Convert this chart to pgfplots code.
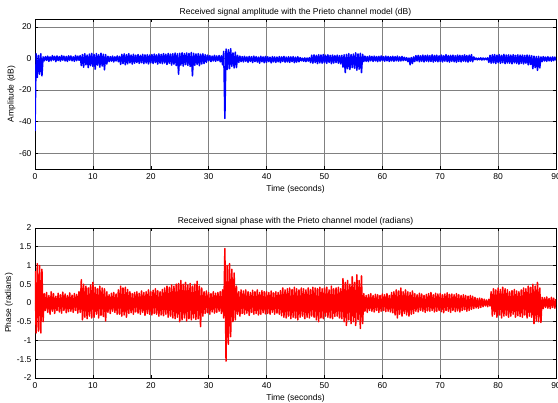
\documentclass[border=0pt]{standalone}
\usepackage{pgfplots}
\pgfplotsset{compat=1.18}
\usepackage{fontspec}
\setmainfont{Liberation Sans}
\newcommand{\fs}{\fontsize{8.5}{9.5}\selectfont}
\pgfplotsset{mystyle/.style={
  scale only axis, width=521pt, height=150pt,
  xmin=0, xmax=90, xtick={0,10,...,90},
  grid=major, major grid style={black!50, line width=0.6pt},
  axis line style={line width=0.9pt},
  tick style={black, line width=0.5pt}, major tick length=3pt,
  tick label style={font=\fs}, label style={font=\fs}, title style={font=\fs},
  xticklabel style={yshift=-1.5pt},
  /pgf/number format/assume math mode=true,
  xlabel={Time (seconds)},
  xlabel style={yshift=2pt},
  ylabel style={yshift=-3pt},
  title style={yshift=-7pt},
}}
\begin{document}
\begin{tikzpicture}
\path[use as bounding box] (0,0) rectangle (558pt,403pt);
\begin{axis}[mystyle, at={(35pt,234pt)}, anchor=south west,
  ymin=-70, ymax=25, ytick={-60,-40,-20,0,20},
  ylabel={Amplitude (dB)},
  title={Received signal amplitude with the Prieto channel model (dB)}]
\addplot[blue, line width=1.5pt, line join=round] table[header=false, row sep=\\, x expr=\coordindex*0.2, y index=0] {
-46\\ 3\\ -12\\ 2\\ -10\\ 3\\ -11\\ 1\\ -1.5\\ 1.2\\
-1.2\\ 1.5\\ -1.8\\ 1.0\\ -1.5\\ 1.8\\ -1.0\\ 1.4\\ -2.0\\ 1.6\\
-1.3\\ 1.2\\ -1.7\\ 1.9\\ -1.1\\ 1.5\\ -1.6\\ 1.3\\ -1.9\\ 1.7\\
-1.2\\ 1.6\\ -1.5\\ 1.1\\ -1.8\\ 1.9\\ -1.4\\ 1.5\\ -1.1\\ 1.8\\
-4.5\\ 2.5\\ -5.5\\ 3.0\\ -4.0\\ 2.2\\ -5.8\\ 2.8\\ -4.6\\ 3.2\\
-5.0\\ 2.6\\ -6.8\\ 3.1\\ -4.2\\ 2.4\\ -5.5\\ 3.3\\ -4.8\\ 2.7\\
-7.2\\ 2.5\\ -3.5\\ 1.4\\ -2.0\\ 1.2\\ -1.7\\ 1.5\\ -2.2\\ 1.1\\
-1.6\\ 1.6\\ -2.1\\ 1.3\\ -3.8\\ 2.6\\ -3.2\\ 2.9\\ -4.0\\ 2.4\\
-3.4\\ 3.0\\ -2.8\\ 2.2\\ -3.6\\ 2.7\\ -3.0\\ 2.1\\ -2.6\\ 2.5\\
-3.1\\ 2.0\\ -2.7\\ 2.6\\ -3.3\\ 2.3\\ -2.9\\ 2.4\\ -3.5\\ 2.2\\
-2.8\\ 2.5\\ -3.2\\ 2.8\\ -2.6\\ 2.3\\ -3.6\\ 2.9\\ -3.0\\ 2.6\\
-3.3\\ 3.1\\ -2.9\\ 2.7\\ -3.8\\ 3.2\\ -3.1\\ 2.8\\ -4.2\\ 3.0\\
-3.6\\ 3.4\\ -4.5\\ 3.0\\ -10.0\\ 3.3\\ -4.2\\ 3.6\\ -4.8\\ 3.1\\
-3.9\\ 3.5\\ -4.4\\ 3.2\\ -5.0\\ 3.8\\ -11.0\\ 3.3\\ -4.3\\ 2.9\\
-3.8\\ 3.1\\ -4.6\\ 2.7\\ -3.5\\ 3.0\\ -3.2\\ 2.4\\ -2.5\\ 2.1\\
-1.5\\ 1.8\\ -2.0\\ 1.5\\ -1.6\\ 2.0\\ -1.8\\ 1.6\\ -1.4\\ 1.9\\
-2.1\\ 1.7\\ -4.0\\ 4.5\\ -38.0\\ 6.0\\ -7.0\\ 5.5\\ -6.5\\ 6.2\\
-5.0\\ 3.5\\ -6.0\\ 4.0\\ -5.8\\ 2.0\\ -2.5\\ 1.5\\ -2.0\\ 1.2\\
-2.2\\ 1.4\\ -1.8\\ 1.0\\ -2.4\\ 1.3\\ -1.9\\ 1.1\\ -2.6\\ 1.5\\
-2.0\\ 1.2\\ -2.3\\ 0.9\\ -3.0\\ 1.4\\ -2.1\\ 1.0\\ -2.7\\ 1.3\\
-2.4\\ 1.1\\ -2.0\\ 0.8\\ -2.8\\ 1.2\\ -2.2\\ 1.0\\ -2.5\\ 0.9\\
-2.1\\ 1.2\\ -2.6\\ 1.0\\ -1.9\\ 1.3\\ -2.4\\ 0.9\\ -2.2\\ 1.1\\
-2.5\\ 1.0\\ -2.0\\ 1.2\\ -2.7\\ 0.8\\ -2.3\\ 1.1\\ -2.1\\ 0.6\\
-1.5\\ 0.2\\ -1.8\\ 0.4\\ -2.0\\ 0.3\\ -1.7\\ 0.5\\ -2.6\\ 2.1\\
-3.0\\ 2.3\\ -2.6\\ 2.0\\ -3.2\\ 2.4\\ -2.8\\ 2.2\\ -3.0\\ 2.5\\
-2.7\\ 2.1\\ -3.1\\ 2.3\\ -2.5\\ 2.0\\ -3.3\\ 2.2\\ -2.9\\ 1.9\\
-2.6\\ 2.1\\ -3.0\\ 1.8\\ -3.4\\ 2.0\\ -5.5\\ 2.4\\ -9.0\\ 2.6\\
-6.5\\ 3.0\\ -7.0\\ 2.5\\ -5.8\\ 2.8\\ -6.2\\ 3.6\\ -7.5\\ 2.9\\
-6.8\\ 3.3\\ -9.0\\ 2.6\\ -2.0\\ 1.5\\ -1.8\\ 1.2\\ -2.0\\ 1.6\\
-1.5\\ 1.3\\ -1.9\\ 1.5\\ -1.6\\ 1.2\\ -2.0\\ 1.4\\ -1.7\\ 1.6\\
-1.4\\ 1.2\\ -1.8\\ 1.5\\ -1.5\\ 1.3\\ -1.9\\ 1.1\\ -1.6\\ 1.4\\
-1.8\\ 1.2\\ -1.5\\ 1.5\\ -1.7\\ 1.0\\ -1.6\\ 1.3\\ -1.4\\ 0.8\\
-1.2\\ 0.5\\ -2.0\\ 0.3\\ -4.0\\ 0.6\\ -3.2\\ 1.0\\ -2.0\\ 1.8\\
-1.6\\ 2.0\\ -2.1\\ 1.7\\ -1.8\\ 2.2\\ -2.2\\ 1.9\\ -1.7\\ 2.1\\
-2.0\\ 1.8\\ -1.9\\ 2.3\\ -2.3\\ 1.9\\ -1.8\\ 2.1\\ -2.1\\ 1.7\\
-1.9\\ 2.2\\ -2.2\\ 1.8\\ -1.7\\ 2.4\\ -2.0\\ 1.9\\ -2.3\\ 2.0\\
-1.8\\ 2.1\\ -2.1\\ 1.8\\ -2.4\\ 2.2\\ -1.9\\ 2.0\\ -2.2\\ 1.9\\
-1.7\\ 2.3\\ -2.0\\ 1.9\\ -2.3\\ 2.1\\ -1.8\\ 2.4\\ -2.1\\ 1.0\\
-0.8\\ 0.3\\ -0.9\\ 0.2\\ -0.8\\ 0.4\\ -1.0\\ 0.3\\ -0.9\\ 0.2\\
-0.8\\ 0.4\\ -2.5\\ 2.0\\ -3.0\\ 2.3\\ -2.8\\ 2.5\\ -3.2\\ 2.1\\
-2.6\\ 2.4\\ -3.1\\ 2.0\\ -2.7\\ 2.6\\ -3.3\\ 2.2\\ -2.9\\ 2.3\\
-3.0\\ 2.1\\ -3.4\\ 2.4\\ -2.8\\ 2.0\\ -3.2\\ 2.3\\ -3.6\\ 2.1\\
-3.1\\ 2.2\\ -3.5\\ 1.9\\ -3.0\\ 2.2\\ -4.0\\ 2.0\\ -3.8\\ 1.8\\
-6.5\\ 1.5\\ -5.8\\ 1.2\\ -7.5\\ 1.4\\ -6.0\\ 1.0\\ -2.0\\ 1.2\\
-1.6\\ 0.9\\ -1.8\\ 1.1\\ -1.5\\ 0.8\\ -1.7\\ 1.0\\ -1.4\\ 0.9\\
-1.2\\
};
\end{axis}
\begin{axis}[mystyle, at={(35pt,25pt)}, anchor=south west,
  ymin=-2, ymax=2, ytick={-2,-1.5,...,2},
  ylabel={Phase (radians)},
  title={Received signal phase with the Prieto channel model (radians)}]
\addplot[red, line width=1.5pt, line join=round] table[header=false, row sep=\\, x expr=\coordindex*0.2, y index=0] {
0.85\\ -0.8\\ 1.05\\ -0.75\\ 1.0\\ -0.8\\ 0.9\\ -0.5\\ 0.25\\ -0.2\\
0.28\\ -0.25\\ 0.2\\ -0.3\\ 0.3\\ -0.22\\ 0.25\\ -0.28\\ 0.18\\ -0.2\\
0.26\\ -0.24\\ 0.22\\ -0.27\\ 0.29\\ -0.2\\ 0.24\\ -0.26\\ 0.2\\ -0.23\\
0.27\\ -0.22\\ 0.21\\ -0.25\\ 0.25\\ -0.2\\ 0.23\\ -0.27\\ 0.3\\ -0.25\\
0.62\\ -0.45\\ 0.5\\ -0.38\\ 0.45\\ -0.42\\ 0.4\\ -0.35\\ 0.48\\ -0.4\\
0.55\\ -0.38\\ 0.42\\ -0.3\\ 0.38\\ -0.4\\ 0.45\\ -0.33\\ 0.4\\ -0.36\\
0.38\\ -0.48\\ 0.3\\ -0.25\\ 0.22\\ -0.28\\ 0.26\\ -0.22\\ 0.28\\ -0.25\\
0.24\\ -0.3\\ 0.35\\ -0.3\\ 0.45\\ -0.35\\ 0.4\\ -0.32\\ 0.42\\ -0.38\\
0.36\\ -0.28\\ 0.3\\ -0.26\\ 0.25\\ -0.3\\ 0.28\\ -0.24\\ 0.3\\ -0.27\\
0.26\\ -0.3\\ 0.32\\ -0.25\\ 0.28\\ -0.33\\ 0.3\\ -0.28\\ 0.35\\ -0.3\\
0.3\\ -0.32\\ 0.34\\ -0.28\\ 0.38\\ -0.3\\ 0.33\\ -0.35\\ 0.3\\ -0.32\\
0.36\\ -0.34\\ 0.4\\ -0.3\\ 0.45\\ -0.38\\ 0.42\\ -0.35\\ 0.48\\ -0.4\\
0.45\\ -0.42\\ 0.5\\ -0.38\\ 0.52\\ -0.5\\ 0.6\\ -0.45\\ 0.5\\ -0.4\\
0.55\\ -0.48\\ 0.48\\ -0.42\\ 0.52\\ -0.45\\ 0.45\\ -0.4\\ 0.5\\ -0.44\\
0.58\\ -0.42\\ 0.45\\ -0.63\\ 0.4\\ -0.35\\ 0.3\\ -0.28\\ 0.32\\ -0.26\\
0.28\\ -0.3\\ 0.25\\ -0.24\\ 0.3\\ -0.27\\ 0.26\\ -0.25\\ 0.28\\ -0.22\\
0.3\\ -0.28\\ 0.35\\ -0.4\\ 1.45\\ -1.55\\ 1.0\\ -1.1\\ 1.05\\ -0.9\\
0.9\\ -0.5\\ 0.8\\ -0.45\\ 0.45\\ -0.3\\ 0.3\\ -0.35\\ 0.35\\ -0.28\\
0.32\\ -0.3\\ 0.35\\ -0.27\\ 0.3\\ -0.33\\ 0.28\\ -0.25\\ 0.34\\ -0.3\\
0.3\\ -0.28\\ 0.35\\ -0.32\\ 0.28\\ -0.3\\ 0.33\\ -0.26\\ 0.3\\ -0.29\\
0.3\\ -0.28\\ 0.28\\ -0.3\\ 0.32\\ -0.25\\ 0.27\\ -0.3\\ 0.3\\ -0.27\\
0.28\\ -0.3\\ 0.33\\ -0.34\\ 0.4\\ -0.38\\ 0.35\\ -0.4\\ 0.38\\ -0.35\\
0.4\\ -0.42\\ 0.36\\ -0.38\\ 0.42\\ -0.4\\ 0.38\\ -0.45\\ 0.35\\ -0.38\\
0.4\\ -0.35\\ 0.38\\ -0.42\\ 0.35\\ -0.38\\ 0.4\\ -0.4\\ 0.36\\ -0.35\\
0.42\\ -0.38\\ 0.4\\ -0.45\\ 0.38\\ -0.5\\ 0.42\\ -0.4\\ 0.38\\ -0.42\\
0.4\\ -0.35\\ 0.42\\ -0.38\\ 0.35\\ -0.4\\ 0.45\\ -0.42\\ 0.38\\ -0.36\\
0.4\\ -0.35\\ 0.42\\ -0.4\\ 0.38\\ -0.42\\ 0.65\\ -0.5\\ 0.55\\ -0.6\\
0.6\\ -0.45\\ 0.5\\ -0.55\\ 0.7\\ -0.5\\ 0.55\\ -0.6\\ 0.75\\ -0.45\\
0.6\\ -0.68\\ 0.72\\ -0.55\\ 0.25\\ -0.22\\ 0.2\\ -0.25\\ 0.22\\ -0.2\\
0.25\\ -0.22\\ 0.2\\ -0.24\\ 0.23\\ -0.2\\ 0.22\\ -0.25\\ 0.2\\ -0.22\\
0.24\\ -0.2\\ 0.22\\ -0.23\\ 0.25\\ -0.22\\ 0.2\\ -0.24\\ 0.28\\ -0.26\\
0.3\\ -0.32\\ 0.35\\ -0.4\\ 0.32\\ -0.3\\ 0.4\\ -0.35\\ 0.3\\ -0.28\\
0.35\\ -0.32\\ 0.3\\ -0.35\\ 0.28\\ -0.3\\ 0.32\\ -0.28\\ 0.25\\ -0.22\\
0.22\\ -0.24\\ 0.26\\ -0.2\\ 0.24\\ -0.22\\ 0.2\\ -0.25\\ 0.23\\ -0.21\\
0.25\\ -0.22\\ 0.28\\ -0.2\\ 0.22\\ -0.24\\ 0.26\\ -0.22\\ 0.24\\ -0.2\\
0.25\\ -0.23\\ 0.22\\ -0.26\\ 0.24\\ -0.2\\ 0.27\\ -0.22\\ 0.23\\ -0.25\\
0.24\\ -0.2\\ 0.22\\ -0.23\\ 0.25\\ -0.21\\ 0.22\\ -0.24\\ 0.2\\ -0.2\\
0.22\\ -0.18\\ 0.2\\ -0.22\\ 0.18\\ -0.2\\ 0.2\\ -0.17\\ 0.18\\ -0.15\\
0.15\\ -0.13\\ 0.12\\ -0.14\\ 0.13\\ -0.12\\ 0.12\\ -0.1\\ 0.1\\ -0.08\\
0.08\\ -0.1\\ 0.1\\ -0.08\\ 0.3\\ -0.35\\ 0.38\\ -0.3\\ 0.35\\ -0.38\\
0.4\\ -0.32\\ 0.36\\ -0.4\\ 0.42\\ -0.35\\ 0.38\\ -0.33\\ 0.35\\ -0.38\\
0.3\\ -0.35\\ 0.33\\ -0.3\\ 0.36\\ -0.38\\ 0.32\\ -0.34\\ 0.3\\ -0.36\\
0.35\\ -0.38\\ 0.4\\ -0.32\\ 0.38\\ -0.4\\ 0.45\\ -0.35\\ 0.42\\ -0.38\\
0.5\\ -0.55\\ 0.45\\ -0.48\\ 0.55\\ -0.5\\ 0.4\\ -0.52\\ 0.15\\ -0.15\\
0.14\\ -0.12\\ 0.16\\ -0.14\\ 0.12\\ -0.15\\ 0.15\\ -0.12\\ 0.13\\ -0.14\\
0.1\\
};
\end{axis}
\end{tikzpicture}
\end{document}
